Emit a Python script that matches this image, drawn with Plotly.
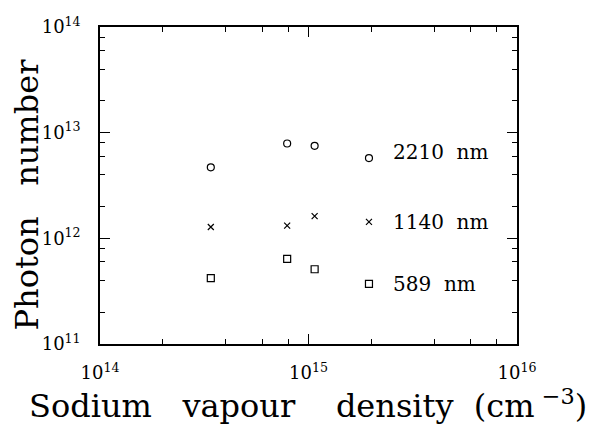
import plotly.graph_objects as go
import numpy as np

density = [3.4e14, 7.9e14, 1.07e15, 1.95e15]
photons_2210 = [4.7e12, 7.9e12, 7.5e12, 5.75e12]
photons_1140 = [1.28e12, 1.32e12, 1.62e12, 1.43e12]
photons_589 = [4.2e11, 6.4e11, 5.1e11, 3.7e11]
series_labels = ["2210  nm", "1140  nm", "589  nm"]

x_major = [1e14, 1e15, 1e16]
x_ticktext = ["10<sup>14</sup>", "10<sup>15</sup>", "10<sup>16</sup>"]
y_major = [1e11, 1e12, 1e13, 1e14]
y_ticktext = ["10<sup>11</sup>", "10<sup>12</sup>", "10<sup>13</sup>", "10<sup>14</sup>"]
minor_mult = [2, 4, 6, 8]
x_title = "Sodium   vapour    density  (cm<sup> −3</sup>)"
y_title = "Photon   number"

FONT = "DejaVu Serif"

fig = go.Figure()
series = [(photons_2210, "circle-open", 7), (photons_1140, "x-thin-open", 6), (photons_589, "square-open", 7)]
for (vals, sym, sz), lab in zip(series, series_labels):
    fig.add_trace(go.Scatter(
        x=density, y=vals, mode="markers", name=lab,
        marker=dict(symbol=sym, size=sz, color="black", line=dict(color="black", width=1.2)),
        showlegend=False,
    ))

# labels next to last point of each series
label_dy = [0.06, 0.0, 0.0]
for vals, lab, dy in zip([photons_2210, photons_1140, photons_589], series_labels, label_dy):
    fig.add_annotation(x=np.log10(density[-1]), y=np.log10(vals[-1]) + dy, xref="x", yref="y",
                       text=lab, showarrow=False, xanchor="left", xshift=22,
                       font=dict(family=FONT, size=20, color="black"))

# axis titles
fig.add_annotation(x=0.5, y=0, xref="paper", yref="paper", xanchor="center", yanchor="middle",
                   yshift=-60, xshift=-1, text=x_title, showarrow=False,
                   font=dict(family=FONT, size=32, color="black"))
fig.add_annotation(x=0, y=0.5, xref="paper", yref="paper", xanchor="left", yanchor="middle",
                   xshift=-95, yshift=-9, textangle=-90, text=y_title, showarrow=False,
                   font=dict(family=FONT, size=32, color="black"))

x_minor = [m * 10**e for e in (14, 15) for m in minor_mult]
y_minor = [m * 10**e for e in (11, 12, 13) for m in minor_mult]

axis_common = dict(
    showline=True, linecolor="black", linewidth=1.5, mirror="allticks",
    ticks="inside", ticklen=10, tickwidth=1.2, tickcolor="black",
    showgrid=False, zeroline=False, automargin=False,
    tickfont=dict(family=FONT, size=18, color="black"),
)

fig.update_xaxes(type="log", range=[14, 16], tickvals=x_major, ticktext=x_ticktext,
                 minor=dict(tickvals=x_minor, ticks="inside", ticklen=5, tickcolor="black", tickwidth=1, showgrid=False),
                 ticklabelstandoff=12,
                 **axis_common)
fig.update_yaxes(type="log", range=[11, 14], tickvals=y_major, ticktext=y_ticktext,
                 minor=dict(tickvals=y_minor, ticks="inside", ticklen=5, tickcolor="black", tickwidth=1, showgrid=False),
                 ticklabelstandoff=14,
                 **axis_common)

# page body adds an 8px offset; the figure is sized to fit the window and the
# margins place the plot area at x 100-517, y 27-344 of the window
fig.update_layout(
    width=593, height=416,
    margin=dict(l=92, r=84, t=19, b=80),
    plot_bgcolor="white", paper_bgcolor="white",
)

fig.write_html("out.html")
